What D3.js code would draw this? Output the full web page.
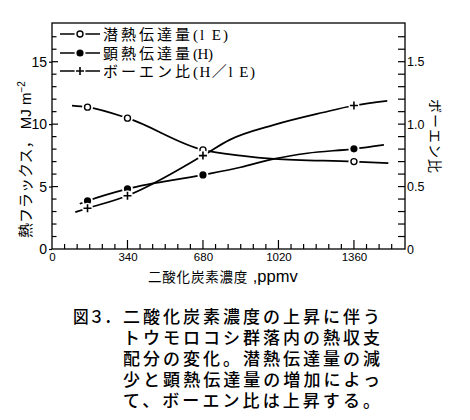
<!DOCTYPE html>
<html><head><meta charset="utf-8">
<script src="https://cdn.jsdelivr.net/npm/d3@7"></script>
<style>body{margin:0;background:#fff}svg{display:block}</style>
</head><body>
<svg id="c" width="470" height="420"></svg>
<script>
// ---- data ----
const ppm = [160, 340, 680, 1360];
const latentHeat = [11.36, 10.48, 7.94, 7.0];
const sensibleHeat = [3.85, 4.81, 5.93, 8.02];
const bowenRatio = [0.326, 0.427, 0.748, 1.149];

// fitted curves drawn through the markers
const latentCurvePpm = [90, 160, 340, 680, 850, 1000, 1360, 1515];
const latentCurveVal = [11.49, 11.36, 10.48, 7.94, 7.48, 7.22, 7.0, 6.88];
const sensibleCurvePpm = [125, 160, 340, 680, 850, 1000, 1150, 1360, 1495];
const sensibleCurveVal = [3.62, 3.85, 4.81, 5.93, 6.55, 7.22, 7.67, 8.02, 8.34];
const bowenCurvePpm = [105, 160, 340, 680, 800, 1000, 1220, 1360, 1510];
const bowenCurveVal = [0.295, 0.326, 0.427, 0.748, 0.874, 0.994, 1.093, 1.149, 1.187];

const xTicks = [0, 340, 680, 1020, 1360];
const yTicksLeft = [0, 5, 10, 15];
const yTicksRight = [0, 0.5, 1.0, 1.5];

const legendNames = ["潜熱伝達量", "顕熱伝達量", "ボーエン比"];
const legendSubs = ["(l E)", "(H)", "(H／l E)"];
const xTitle = "二酸化炭素濃度";
const xUnit = " ,ppmv";
const yTitle = "熱フラックス，";
const yUnit = "MJ m";
const yRightTitle = "ボーエン比";
const captionLead = "図３．";
const captionLines = [
  "二酸化炭素濃度の上昇に伴う",
  "トウモロコシ群落内の熱収支",
  "配分の変化。潜熱伝達量の減",
  "少と顕熱伝達量の増加によっ",
  "て、ボーエン比は上昇する。"
];

// ---- drawing ----
const JP = "'Noto Sans CJK JP', sans-serif";
const JPL = "'Liberation Sans', 'Noto Sans CJK JP', sans-serif";
const LAT = "'Liberation Sans', 'Noto Sans CJK JP', sans-serif";
const SERIF = "'Liberation Serif', 'Noto Sans CJK JP', serif";
const svg = d3.select("#c");

const x = d3.scaleLinear().domain([0, 1590]).range([52, 405]);
const y = d3.scaleLinear().domain([0, 18.1]).range([249, 23]);
const yR = d3.scaleLinear().domain([0, 1.81]).range([249, 23]);

const [X0, X1] = x.range();
const [Y0, Y1] = y.range();

// frame
svg.append("rect").attr("x", X0).attr("y", Y1).attr("width", X1 - X0).attr("height", Y0 - Y1)
  .attr("fill", "none").attr("stroke", "#000").attr("stroke-width", 1.3);

// left axis
const gL = svg.append("g").attr("transform", `translate(${X0},0)`)
  .call(d3.axisLeft(y).tickValues(yTicksLeft).tickSize(3).tickPadding(2).tickFormat(d3.format("d")));
gL.select(".domain").remove();
gL.selectAll("text").attr("font-family", LAT).attr("font-size", 14).attr("fill", "#000");
gL.selectAll("line").attr("stroke-width", 1.2);
svg.append("g").selectAll("line").data(d3.range(1, 18, 1)).join("line")
  .attr("x1", X0).attr("x2", d => X0 + (d % 5 === 0 ? 6 : 4.5))
  .attr("y1", d => y(d)).attr("y2", d => y(d)).attr("stroke", "#000").attr("stroke-width", 1.2);

// right axis
const gR = svg.append("g").attr("transform", `translate(${X1},0)`)
  .call(d3.axisRight(yR).tickValues(yTicksRight).tickSize(0).tickPadding(2)
    .tickFormat(d => d === 0 ? "0" : d.toFixed(1)));
gR.select(".domain").remove();
gR.selectAll("text").attr("font-family", LAT).attr("font-size", 12.5).attr("fill", "#000");
svg.append("g").selectAll("line").data(d3.range(1, 18, 1)).join("line")
  .attr("x1", X1).attr("x2", X1 - 7)
  .attr("y1", d => yR(d / 10)).attr("y2", d => yR(d / 10)).attr("stroke", "#000").attr("stroke-width", 1.2);

// bottom axis
const gB = svg.append("g").attr("transform", `translate(0,${Y0})`)
  .call(d3.axisBottom(x).tickValues(xTicks).tickSize(0).tickPadding(4).tickFormat(d3.format("d")));
gB.select(".domain").remove();
gB.selectAll("text").attr("font-family", LAT).attr("font-size", 11.5).attr("fill", "#000");
svg.append("g").selectAll("line").data(d3.range(1, 28, 1)).join("line")
  .attr("x1", d => x(d * 340 / 6)).attr("x2", d => x(d * 340 / 6))
  .attr("y1", Y0).attr("y2", d => Y0 - (d % 6 === 0 ? 9 : 5))
  .attr("stroke", "#000").attr("stroke-width", 1.2);

// curves
const line = d3.line().curve(d3.curveMonotoneX);
function curve(px, vals, sc) {
  svg.append("path").attr("d", line(px.map((p, i) => [x(p), sc(vals[i])])))
    .attr("fill", "none").attr("stroke", "#000").attr("stroke-width", 1.7);
}
curve(latentCurvePpm, latentCurveVal, y);
curve(sensibleCurvePpm, sensibleCurveVal, y);
curve(bowenCurvePpm, bowenCurveVal, yR);

function marker(type, cx, cy) {
  const g = svg.append("g");
  g.append("circle").attr("cx", cx).attr("cy", cy).attr("r", 5.5).attr("fill", "#fff");
  if (type === "open") {
    g.append("circle").attr("cx", cx).attr("cy", cy).attr("r", 3).attr("fill", "#fff")
      .attr("stroke", "#000").attr("stroke-width", 1.4);
  } else if (type === "filled") {
    g.append("circle").attr("cx", cx).attr("cy", cy).attr("r", 3.6).attr("fill", "#000");
  } else {
    g.append("path").attr("d", `M${cx - 4},${cy}H${cx + 4}M${cx},${cy - 4}V${cy + 4}`)
      .attr("stroke", "#000").attr("stroke-width", 1.6);
  }
}
ppm.forEach((p, i) => marker("open", x(p), y(latentHeat[i])));
ppm.forEach((p, i) => marker("filled", x(p), y(sensibleHeat[i])));
ppm.forEach((p, i) => marker("plus", x(p), yR(bowenRatio[i])));

// legend
const legendTypes = ["open", "filled", "plus"];
const legY = [34, 53, 71];
const subW = [35, 20, 62];
legendNames.forEach((name, i) => {
  svg.append("line").attr("x1", 60).attr("x2", 100).attr("y1", legY[i]).attr("y2", legY[i])
    .attr("stroke", "#000").attr("stroke-width", 1.7);
  marker(legendTypes[i], 80, legY[i]);
  svg.append("text").attr("x", 103).attr("y", legY[i] + 6).attr("font-family", JPL)
    .attr("font-size", 15).attr("letter-spacing", 3).text(name);
  svg.append("text").attr("x", 193).attr("y", legY[i] + 5.5).attr("font-family", SERIF)
    .attr("font-size", 15).attr("textLength", subW[i]).attr("lengthAdjust", "spacing")
    .text(legendSubs[i]);
});

// axis titles
const xt = svg.append("text").attr("x", 148).attr("y", 282).attr("font-family", JPL).attr("font-size", 13.5);
xt.append("tspan").attr("letter-spacing", 0.8).text(xTitle);
xt.append("tspan").attr("font-family", LAT).attr("font-size", 16.5).text(xUnit);

const yt = svg.append("text").attr("transform", "translate(31,238) rotate(-90)")
  .attr("font-family", LAT).attr("font-size", 15);
yt.append("tspan").text(yTitle);
yt.append("tspan").text(" " + yUnit);
yt.append("tspan").attr("font-size", 10).attr("dy", -6).text("−2");

svg.append("text").attr("transform", "translate(430,99) rotate(90)")
  .attr("font-family", JPL).attr("font-size", 14).attr("letter-spacing", 1).text(yRightTitle);

// caption
svg.append("text").attr("x", 73).attr("y", 323).attr("font-family", JPL).attr("font-size", 17)
  .attr("font-weight", 500).attr("textLength", 47).attr("lengthAdjust", "spacingAndGlyphs").text(captionLead);
captionLines.forEach((t, i) => {
  svg.append("text").attr("x", 123).attr("y", 323 + i * 21).attr("font-family", JPL)
    .attr("font-size", 17).attr("font-weight", 500)
    .attr("textLength", 257).attr("lengthAdjust", "spacing").text(t);
});
</script>
</body></html>
